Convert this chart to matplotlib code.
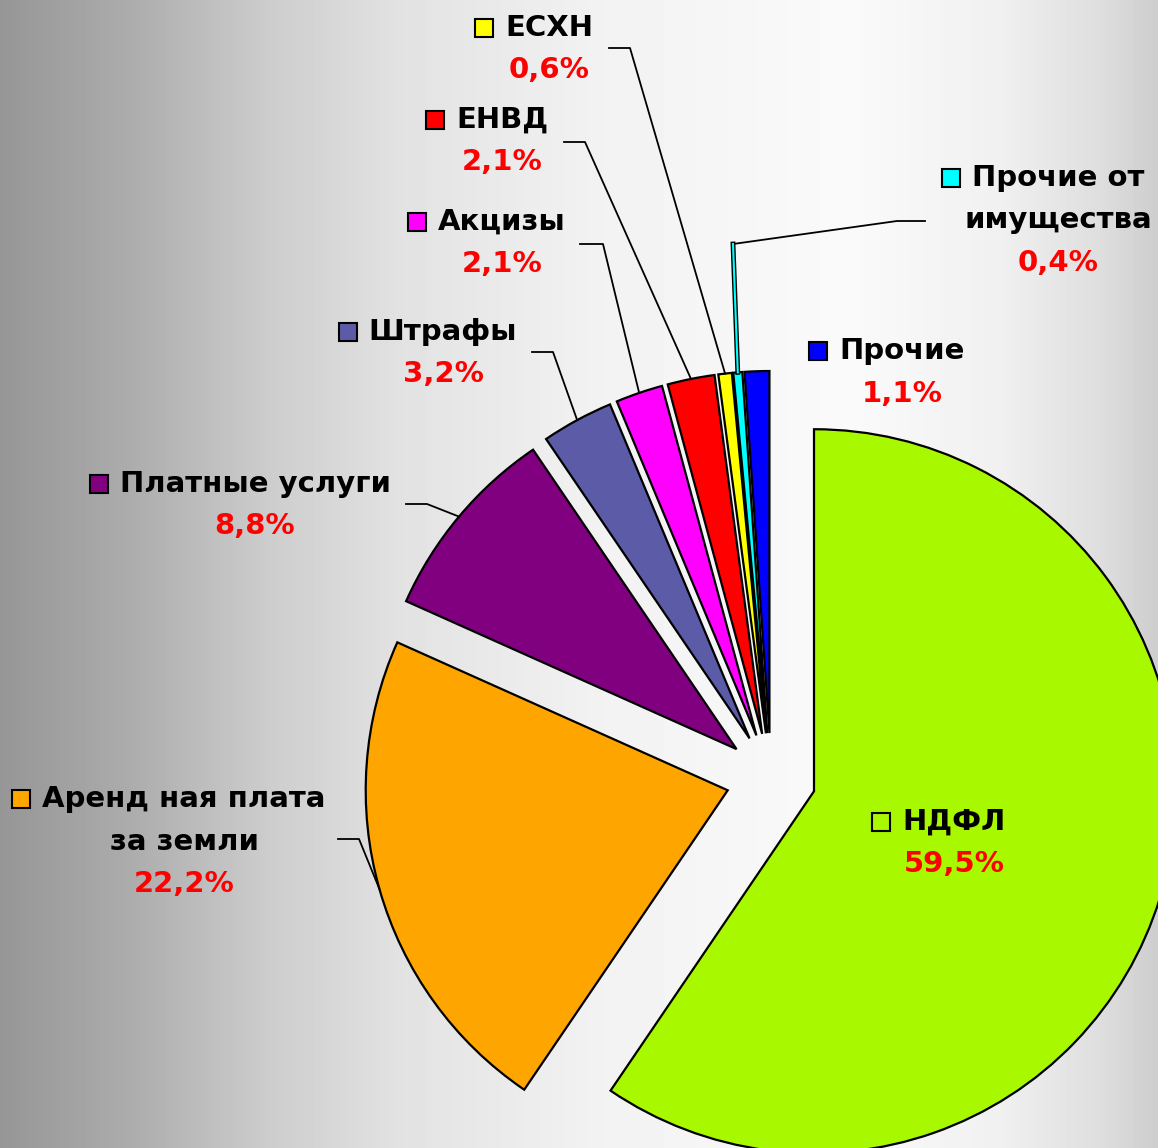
import numpy as np
import matplotlib
matplotlib.use("Agg")
import matplotlib.pyplot as plt

W, H = 1158, 1148

# data
names = ['НДФЛ', 'Аренд ная плата\nза земли', 'Платные услуги', 'Штрафы',
         'Акцизы', 'ЕНВД', 'ЕСХН', 'Прочие от\nимущества', 'Прочие']
shares = [59.5, 22.2, 8.8, 3.2, 2.1, 2.1, 0.6, 0.4, 1.1]
colors = ['#a8f800', '#ffa500', '#800080', '#5b5ba8',
          '#ff00ff', '#ff0000', '#ffff00', '#00ffff', '#0000ff']

# label layout in pixels (x center of text block, y of first line), y down
label_pos = [(954, 822), (184, 799), (255, 484), (443, 332),
             (502, 222), (502, 120), (549, 28), (1058, 178), (902, 351)]
# leader line start points (pixels), None = no leader
leaders = [None,
           [(338, 839), (359, 839)],
           [(406, 504), (427, 504)],
           [(532, 352), (553, 352)],
           [(580, 244), (603, 244)],
           [(564, 142), (585, 142)],
           [(609, 48), (630, 48)],
           [(925, 221), (897, 221), (733, 244)],
           None]

def py(y):
    return H - y

fig = plt.figure(figsize=(W / 100, H / 100), dpi=100)
ax = fig.add_axes([0, 0, 1, 1])

# background gradient
gx = [0, 130, 270, 400, 600, 850, 1000, 1100, 1158]
gv = [150, 172, 205, 226, 242, 250, 240, 222, 205]
row = np.interp(np.arange(W), gx, gv) / 255.0
grad = np.tile(row, (10, 1))
ax.imshow(grad, extent=[0, W, 0, H], aspect='auto', cmap='gray', vmin=0, vmax=1, zorder=0)

wedges, _ = ax.pie(shares, colors=colors, startangle=90, counterclock=False,
                   explode=[45] * len(shares), radius=362, center=(771, py(778)),
                   wedgeprops=dict(edgecolor='black', linewidth=1.6), frame=True)

ax.set_xlim(0, W)
ax.set_ylim(0, H)
ax.axis('off')

font = dict(family='DejaVu Sans', fontweight='bold', fontsize=21)
step = 42.5
first_lines = []
for i, (name, v) in enumerate(zip(names, shares)):
    x0, y0 = label_pos[i]
    lines = name.split('\n')
    for k, ln in enumerate(lines):
        t = ax.text(x0, py(y0 + k * step), ln, ha='center', va='center', color='black', **font)
        if k == 0:
            first_lines.append(t)
    pct = f"{v:.1f}%".replace('.', ',')
    ax.text(x0, py(y0 + len(lines) * step), pct, ha='center', va='center', color='red', **font)

    # leader lines
    if leaders[i] is not None:
        w = wedges[i]
        tm = np.deg2rad((w.theta1 + w.theta2) / 2)
        ex = w.center[0] + w.r * np.cos(tm)
        ey = w.center[1] + w.r * np.sin(tm)
        xs = [p[0] for p in leaders[i]] + [ex]
        ys = [py(p[1]) for p in leaders[i]] + [ey]
        ax.plot(xs, ys, color='black', lw=1.3, zorder=3)
        if i == 7:
            ax.plot(xs[-2:], ys[-2:], color='black', lw=3.5, zorder=3)
            ax.plot(xs[-2:], ys[-2:], color='#00ffff', lw=1.5, zorder=4)

# legend-like square markers left of first text line
fig.canvas.draw()
r = fig.canvas.get_renderer()
for i, t in enumerate(first_lines):
    bb = t.get_window_extent(renderer=r)
    mx = bb.x0 - 21
    my = py(label_pos[i][1])
    face = 'none' if i == 0 else colors[i]
    ax.plot([mx], [my], marker='s', ms=13, mfc=face, mec='black', mew=1.5, zorder=5)

fig.savefig("out.png", dpi=100)
